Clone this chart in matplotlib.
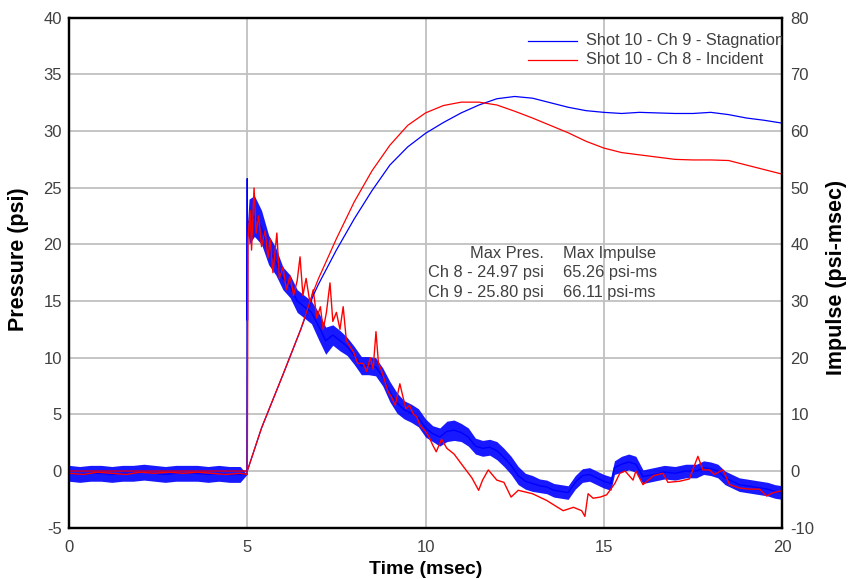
import matplotlib
matplotlib.use("Agg")
import matplotlib.pyplot as plt
import numpy as np

plt.rcParams['font.family'] = ['Liberation Sans', 'DejaVu Sans']
plt.rcParams['axes.unicode_minus'] = False

# ---------------- data ----------------
# Ch 9 (blue, stagnation) pressure: time, band centre, band half-width
ch9_t = [0.0, 0.3, 0.6, 0.9, 1.2, 1.5, 1.8, 2.1, 2.4, 2.7, 3.0, 3.3, 3.6, 3.9, 4.2, 4.5, 4.8, 4.99,
         5.0, 5.005, 5.01, 5.05, 5.2, 5.4, 5.6, 5.8, 6.0, 6.2, 6.4, 6.6, 6.8, 7.0, 7.2, 7.4, 7.6, 7.8,
         8.0, 8.2, 8.4, 8.6, 8.8, 9.0, 9.2, 9.4, 9.6, 9.8, 10.0, 10.2, 10.4, 10.6, 10.8, 11.0, 11.2,
         11.4, 11.6, 11.8, 12.0, 12.2, 12.4, 12.6, 12.8, 13.0, 13.2, 13.4, 13.6, 13.8, 14.0, 14.2,
         14.4, 14.6, 14.8, 15.0, 15.2, 15.3, 15.5, 15.7, 15.9, 16.1, 16.4, 16.7, 17.0, 17.3, 17.6,
         17.8, 18.0, 18.2, 18.4, 18.6, 18.8, 19.0, 19.2, 19.4, 19.6, 19.8, 20.0]
ch9_p = [-0.2, -0.3, -0.2, -0.2, -0.3, -0.2, -0.2, -0.1, -0.2, -0.3, -0.2, -0.2, -0.2, -0.3, -0.2, -0.3, -0.3, -0.3,
         25.8, 13.3, 22.0, 22.0, 22.5, 21.5, 19.5, 18.5, 17.0, 16.3, 15.0, 14.5, 14.0, 12.8, 11.5, 12.0, 11.5, 11.0,
         10.2, 9.3, 9.3, 9.2, 8.3, 7.0, 6.0, 5.4, 5.1, 4.7, 3.8, 3.3, 3.0, 3.5, 3.6, 3.4, 3.0,
         2.2, 2.0, 2.1, 1.8, 1.2, 0.5, -0.4, -0.9, -1.1, -1.3, -1.4, -1.7, -1.8, -1.9, -1.0,
         -0.4, -0.3, -0.6, -0.9, -1.1, 0.3, 0.6, 0.8, 0.6, -0.5, -0.3, -0.1, -0.2, 0.0, 0.0,
         0.3, 0.2, 0.0, -0.6, -0.9, -1.2, -1.3, -1.4, -1.5, -1.6, -1.8, -1.9]
ch9_hw = [0.7, 0.7, 0.7, 0.7, 0.7, 0.7, 0.7, 0.7, 0.7, 0.7, 0.7, 0.7, 0.7, 0.7, 0.7, 0.7, 0.7, 0.0,
          0.0, 0.0, 0.0, 2.0, 1.8, 1.5, 1.3, 1.2, 1.0, 1.0, 1.0, 1.0, 1.0, 1.2, 1.2, 0.9, 0.9, 0.8,
          0.8, 0.8, 0.8, 0.8, 0.8, 0.9, 0.9, 0.8, 0.8, 0.8, 0.8, 0.7, 0.8, 0.9, 0.9, 0.8, 0.8,
          0.7, 0.7, 0.7, 0.8, 0.8, 0.8, 0.8, 0.7, 0.7, 0.6, 0.6, 0.6, 0.6, 0.6, 0.6,
          0.6, 0.6, 0.6, 0.6, 0.6, 0.6, 0.7, 0.7, 0.7, 0.6, 0.6, 0.6, 0.6, 0.6, 0.6,
          0.6, 0.6, 0.6, 0.6, 0.6, 0.6, 0.6, 0.6, 0.6, 0.6, 0.6, 0.6]

# Ch 8 (red, incident) pressure
ch8_t = [0.0, 0.4, 0.8, 1.2, 1.6, 2.0, 2.4, 2.8, 3.2, 3.6, 4.0, 4.4, 4.8, 5.0,
         5.02, 5.08, 5.12, 5.19, 5.25, 5.32, 5.4, 5.5, 5.58, 5.64, 5.72, 5.83, 5.9, 6.0, 6.1, 6.2,
         6.3, 6.4, 6.48, 6.56, 6.65, 6.76, 6.85, 6.95, 7.05, 7.13, 7.22, 7.32, 7.4, 7.5, 7.6, 7.69,
         7.78, 7.88, 7.98, 8.1, 8.25, 8.35, 8.45, 8.53, 8.61, 8.68, 8.75, 8.85, 8.95, 9.05, 9.15,
         9.28, 9.37, 9.45, 9.55, 9.66, 9.75, 9.85, 10.0, 10.1, 10.2, 10.3, 10.45, 10.6, 10.8, 11.06,
         11.3, 11.49, 11.6, 11.76, 12.0, 12.2, 12.4, 12.6, 13.0, 13.4, 13.86, 14.15, 14.38, 14.47,
         14.56, 14.7, 14.9, 15.08, 15.31, 15.45, 15.6, 15.82, 15.9, 16.1, 16.4, 16.66, 16.8, 17.13,
         17.4, 17.64, 17.78, 17.97, 18.1, 18.34, 18.53, 18.81, 19.1, 19.37, 19.57, 19.76, 20.0]
ch8_p = [-0.2, -0.3, -0.1, -0.2, -0.3, -0.1, -0.2, -0.1, -0.2, -0.1, -0.2, -0.3, -0.2, -0.3,
         20.5, 23.0, 19.5, 24.97, 21.0, 22.5, 19.8, 21.2, 18.8, 20.5, 17.5, 21.0, 17.0, 18.0, 16.0, 17.2,
         15.5, 16.8, 18.9, 15.5, 17.0, 14.8, 16.0, 13.5, 14.5, 12.5, 14.0, 16.6, 13.2, 14.0, 12.5, 14.5,
         11.5, 11.0, 10.5, 9.5, 9.5, 8.8, 10.0, 9.0, 12.3, 9.5, 9.0, 8.0, 7.0, 6.5, 5.8,
         7.7, 6.5, 5.5, 5.8, 5.0, 4.8, 4.0, 3.5, 3.0, 2.3, 1.7, 2.8, 2.0, 1.5, 0.4,
         -0.6, -1.7, -0.8, 0.1, -0.8, -1.0, -2.3, -1.7, -2.0, -2.6, -3.5, -3.2, -3.5, -4.0,
         -2.0, -2.4, -2.3, -2.1, -1.1, -0.2, 0.0, -0.8, 0.0, -1.2, -0.4, -0.2, -1.0, -0.9,
         -0.7, 1.3, 0.1, 0.1, -0.3, 0.1, -1.2, -1.5, -1.6, -1.6, -2.2, -1.9, -1.75]

# Impulse (psi-msec)
imp_t = [0.0, 5.0, 5.4, 6.0, 6.5, 6.85, 7.0, 7.5, 8.0, 8.5, 9.0, 9.5, 10.0, 10.5, 11.0, 11.5,
         12.0, 12.5, 13.0, 13.5, 14.0, 14.5, 15.0, 15.5, 16.0, 16.5, 17.0, 17.5, 18.0, 18.5,
         19.0, 19.5, 20.0]
imp_ch8 = [0.0, 0.0, 7.6, 17.0, 25.0, 31.6, 34.0, 41.0, 47.5, 53.0, 57.5, 61.0, 63.2, 64.5, 65.1, 65.1,
           64.6, 63.5, 62.3, 61.0, 59.7, 58.2, 57.0, 56.2, 55.8, 55.4, 55.0, 54.9, 54.9, 54.8,
           54.0, 53.2, 52.4]
imp_ch9 = [0.0, 0.0, 7.6, 17.0, 25.0, 31.0, 33.0, 39.0, 44.5, 49.5, 54.0, 57.2, 59.6, 61.5, 63.2, 64.6,
           65.7, 66.1, 65.8, 65.0, 64.2, 63.6, 63.3, 63.1, 63.3, 63.2, 63.1, 63.1, 63.3, 62.9,
           62.3, 61.9, 61.4]

legend_labels = ["Shot 10 - Ch 9 - Stagnation", "Shot 10 - Ch 8 - Incident"]
summary_rows = [("Max Pres.", "Max Impulse"),
                ("Ch 8 - 24.97 psi", "65.26 psi-ms"),
                ("Ch 9 - 25.80 psi", "66.11 psi-ms")]

# ---------------- figure ----------------
BLUE = "#0000ff"
RED = "#ff0000"
TXT = "#404040"

fig = plt.figure(figsize=(8.48, 5.79), dpi=100)
ax = fig.add_axes([0.0814, 0.0886, 0.8408, 0.8808])
ax2 = ax.twinx()

t9 = np.array(ch9_t)
p9 = np.array(ch9_p)
h9 = np.array(ch9_hw)

ax.fill_between(t9, p9 - h9, p9 + h9, color=BLUE, alpha=0.9, lw=0, zorder=3)
ax.plot(t9, p9, color=BLUE, lw=1.0, zorder=3)
ax.plot(ch8_t, ch8_p, color=RED, lw=1.0, zorder=4)

ax2.plot(imp_t, imp_ch9, color=BLUE, lw=0.9)
ax2.plot(imp_t, imp_ch8, color=RED, lw=0.9)

ax.set_xlim(0, 20)
ax.set_ylim(-5, 40)
ax2.set_ylim(-10, 80)
ax.set_xticks(np.arange(0, 21, 5))
ax.set_yticks(np.arange(-5, 41, 5))
ax2.set_yticks(np.arange(-10, 81, 10))

ax.grid(True, color="#c0c0c0", lw=1.3, zorder=0)
ax.set_axisbelow(True)

for a in (ax, ax2):
    for s in a.spines.values():
        s.set_linewidth(1.6)
        s.set_color("black")
ax.tick_params(axis='both', length=0, labelsize=12, labelcolor=TXT)
ax.tick_params(axis='x', pad=9)
ax.tick_params(axis='y', pad=5)
ax2.tick_params(axis='y', length=0, labelsize=12, labelcolor=TXT, pad=6)

ax.text(0.5, -0.081, "Time (msec)", transform=ax.transAxes, ha='center', va='center',
        fontsize=14, fontweight='bold', color='black')
ax.text(-0.0715, 0.527, "Pressure (psi)", transform=ax.transAxes, ha='center', va='center',
        rotation=90, fontsize=15.5, fontweight='bold', color='black')
ax.text(1.077, 0.491, "Impulse (psi-msec)", transform=ax.transAxes, ha='center', va='center',
        rotation=90, fontsize=15.5, fontweight='bold', color='black')

# legend (drawn manually so the long entry is clipped by the frame as in the original)
for i, (lab, col) in enumerate(zip(legend_labels, [BLUE, RED])):
    y = 0.955 - i * 0.037
    ax2.plot([0.644, 0.713], [y, y], transform=ax2.transAxes, color=col, lw=0.9)
    ax2.text(0.725, y, lab, transform=ax2.transAxes, ha='left', va='center',
             fontsize=11.8, color=TXT, clip_on=True)

# summary text
for i, (c1, c2) in enumerate(summary_rows):
    y = 0.5386 - i * 0.0384
    ax2.text(0.666, y, c1, transform=ax2.transAxes, ha='right', va='center', fontsize=11.8, color=TXT)
    ax2.text(0.693, y, c2, transform=ax2.transAxes, ha='left', va='center', fontsize=11.8, color=TXT)

fig.savefig("out.png", dpi=100)
